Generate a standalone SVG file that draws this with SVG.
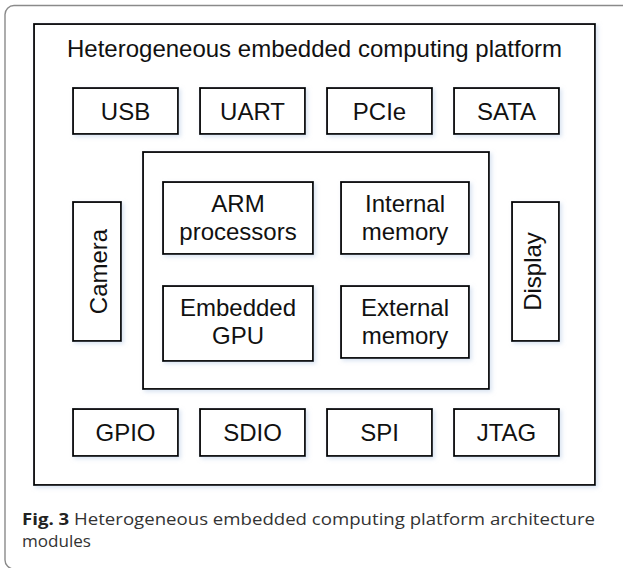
<svg xmlns="http://www.w3.org/2000/svg" width="623" height="568" viewBox="0 0 623 568">
  <defs>
    <filter id="sh" x="-20%" y="-20%" width="140%" height="140%">
      <feDropShadow dx="2" dy="2" stdDeviation="2" flood-color="#b9cde6" flood-opacity="0.55"/>
    </filter>
  </defs>
  <style>
    .box { fill: #ffffff; stroke: #000000; stroke-width: 1.8; filter: url(#sh); }
    .lbl { font-family: "Liberation Sans", Arial, sans-serif; font-size: 24px; fill: #111111; text-anchor: middle; }
    .cap { font-family: "Open Sans", "Noto Sans", sans-serif; font-size: 16px; fill: #333333; }
  </style>
  <rect width="623" height="568" fill="#ffffff"/>
  <path d="M623,5.5 H14 A9,9 0 0 0 5,14.5 V560 A9,9 0 0 0 14,569" fill="none" stroke="#8a8a8a" stroke-width="1.4"/>

  <g id="platform">
    <rect class="box" x="34" y="24" width="561" height="461"/>
    <text class="lbl" x="314.5" y="57">Heterogeneous embedded computing platform</text>
  </g>

  <g id="usb"><rect class="box" x="73" y="88" width="105" height="46"/><text class="lbl" x="125.5" y="119.5">USB</text></g>
  <g id="uart"><rect class="box" x="200" y="88" width="105" height="46"/><text class="lbl" x="252.5" y="119.5">UART</text></g>
  <g id="pcie"><rect class="box" x="327" y="88" width="105" height="46"/><text class="lbl" x="379.5" y="119.5">PCIe</text></g>
  <g id="sata"><rect class="box" x="454" y="88" width="105" height="46"/><text class="lbl" x="506.5" y="119.5">SATA</text></g>

  <g id="soc"><rect class="box" x="143" y="152" width="346" height="237"/></g>
  <g id="arm"><rect class="box" x="163" y="182" width="150" height="72"/><text class="lbl" x="238" y="212">ARM</text><text class="lbl" x="238" y="240">processors</text></g>
  <g id="internal"><rect class="box" x="341" y="182" width="128" height="72"/><text class="lbl" x="405" y="212">Internal</text><text class="lbl" x="405" y="240">memory</text></g>
  <g id="gpu"><rect class="box" x="163" y="286" width="150" height="75"/><text class="lbl" x="238" y="316">Embedded</text><text class="lbl" x="238" y="344">GPU</text></g>
  <g id="external"><rect class="box" x="341" y="286" width="128" height="72"/><text class="lbl" x="405" y="316">External</text><text class="lbl" x="405" y="344">memory</text></g>

  <g id="camera"><rect class="box" x="73" y="202" width="48" height="139"/><text class="lbl" transform="translate(106.5,271.5) rotate(-90)">Camera</text></g>
  <g id="display"><rect class="box" x="512" y="202" width="47" height="139"/><text class="lbl" transform="translate(540.5,271.5) rotate(-90)">Display</text></g>

  <g id="gpio"><rect class="box" x="73" y="409" width="105" height="47"/><text class="lbl" x="125.5" y="441">GPIO</text></g>
  <g id="sdio"><rect class="box" x="200" y="409" width="105" height="47"/><text class="lbl" x="252.5" y="441">SDIO</text></g>
  <g id="spi"><rect class="box" x="327" y="409" width="105" height="47"/><text class="lbl" x="379.5" y="441">SPI</text></g>
  <g id="jtag"><rect class="box" x="454" y="409" width="105" height="47"/><text class="lbl" x="506.5" y="441">JTAG</text></g>

  <g id="connectors"/>

  <g id="caption">
    <text class="cap" x="22" y="525" textLength="573" lengthAdjust="spacingAndGlyphs"><tspan font-weight="bold" fill="#222222">Fig. 3</tspan> Heterogeneous embedded computing platform architecture</text>
    <text class="cap" x="22" y="547" textLength="69" lengthAdjust="spacingAndGlyphs">modules</text>
  </g>
</svg>
